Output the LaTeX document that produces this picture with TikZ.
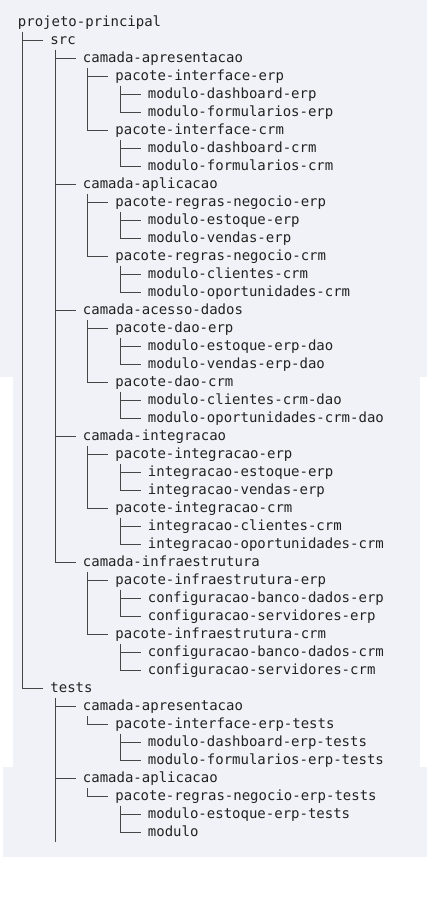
\documentclass[tikz,border=0pt]{standalone}
\usepackage{fontspec}
\newfontfamily\treefont{DejaVu Sans Mono}
\usepackage{tikz}

\definecolor{panel}{RGB}{240,242,247}
\definecolor{ink}{RGB}{34,34,34}
\definecolor{branch}{RGB}{70,70,70}

\tikzset{
  dir/.style={anchor=base west, inner ysep=0pt, inner xsep=7pt,
    text height=13.2pt, text depth=4.8pt, text=ink,
    font=\treefont\fontsize{14pt}{18pt}\selectfont},
  edge/.style={draw=branch, line width=0.9pt}
}

\begin{document}
\begin{tikzpicture}[x=1pt,y=-1pt]
  \useasboundingbox (0,0) rectangle (427,899);
  \fill[panel] (0,0) rectangle (427,377);
  \fill[panel] (13,377) rectangle (420,767);
  \fill[panel] (3,767) rectangle (427,857);

  \node[dir] (prj) at (10.7,26.8) {projeto-principal};
  \node[dir] (src) at (43.2,44.8) {src};
  \node[dir] (apres) at (75.7,62.8) {camada-apresentacao};
  \node[dir] (ierp) at (108.2,80.8) {pacote-interface-erp};
  \node[dir] (dasherp) at (140.7,98.8) {modulo-dashboard-erp};
  \node[dir] (formerp) at (140.7,116.8) {modulo-formularios-erp};
  \node[dir] (icrm) at (108.2,134.8) {pacote-interface-crm};
  \node[dir] (dashcrm) at (140.7,152.8) {modulo-dashboard-crm};
  \node[dir] (formcrm) at (140.7,170.8) {modulo-formularios-crm};
  \node[dir] (aplic) at (75.7,188.8) {camada-aplicacao};
  \node[dir] (rerp) at (108.2,206.8) {pacote-regras-negocio-erp};
  \node[dir] (estoerp) at (140.7,224.8) {modulo-estoque-erp};
  \node[dir] (venderp) at (140.7,242.8) {modulo-vendas-erp};
  \node[dir] (rcrm) at (108.2,260.8) {pacote-regras-negocio-crm};
  \node[dir] (clicrm) at (140.7,278.8) {modulo-clientes-crm};
  \node[dir] (oporcrm) at (140.7,296.8) {modulo-oportunidades-crm};
  \node[dir] (acesso) at (75.7,314.8) {camada-acesso-dados};
  \node[dir] (daoerp) at (108.2,332.8) {pacote-dao-erp};
  \node[dir] (estodao) at (140.7,350.8) {modulo-estoque-erp-dao};
  \node[dir] (venddao) at (140.7,368.8) {modulo-vendas-erp-dao};
  \node[dir] (daocrm) at (108.2,386.8) {pacote-dao-crm};
  \node[dir] (clidao) at (140.7,404.8) {modulo-clientes-crm-dao};
  \node[dir] (opordao) at (140.7,422.8) {modulo-oportunidades-crm-dao};
  \node[dir] (integ) at (75.7,440.8) {camada-integracao};
  \node[dir] (gerp) at (108.2,458.8) {pacote-integracao-erp};
  \node[dir] (intesto) at (140.7,476.8) {integracao-estoque-erp};
  \node[dir] (intvend) at (140.7,494.8) {integracao-vendas-erp};
  \node[dir] (gcrm) at (108.2,512.8) {pacote-integracao-crm};
  \node[dir] (intcli) at (140.7,530.8) {integracao-clientes-crm};
  \node[dir] (intopor) at (140.7,548.8) {integracao-oportunidades-crm};
  \node[dir] (infra) at (75.7,566.8) {camada-infraestrutura};
  \node[dir] (infraerp) at (108.2,584.8) {pacote-infraestrutura-erp};
  \node[dir] (bancoerp) at (140.7,602.8) {configuracao-banco-dados-erp};
  \node[dir] (serverp) at (140.7,620.8) {configuracao-servidores-erp};
  \node[dir] (infracrm) at (108.2,638.8) {pacote-infraestrutura-crm};
  \node[dir] (bancocrm) at (140.7,656.8) {configuracao-banco-dados-crm};
  \node[dir] (servcrm) at (140.7,674.8) {configuracao-servidores-crm};
  \node[dir] (tests) at (43.2,692.8) {tests};
  \node[dir] (tapres) at (75.7,710.8) {camada-apresentacao};
  \node[dir] (tierp) at (108.2,728.8) {pacote-interface-erp-tests};
  \node[dir] (tdash) at (140.7,746.8) {modulo-dashboard-erp-tests};
  \node[dir] (tform) at (140.7,764.8) {modulo-formularios-erp-tests};
  \node[dir] (taplic) at (75.7,782.8) {camada-aplicacao};
  \node[dir] (trerp) at (108.2,800.8) {pacote-regras-negocio-erp-tests};
  \node[dir] (testo) at (140.7,818.8) {modulo-estoque-erp-tests};
  \node[dir] (tmod) at (140.7,836.8) {modulo};
  \coordinate (cut) at (55.2,841.6);

  \draw[edge] ([xshift=12pt]prj.south west) |- (src.west);
  \draw[edge] ([xshift=12pt]prj.south west) |- (tests.west);
  \draw[edge] ([xshift=12pt]src.south west) |- (apres.west);
  \draw[edge] ([xshift=12pt]src.south west) |- (aplic.west);
  \draw[edge] ([xshift=12pt]src.south west) |- (acesso.west);
  \draw[edge] ([xshift=12pt]src.south west) |- (integ.west);
  \draw[edge] ([xshift=12pt]src.south west) |- (infra.west);
  \draw[edge] ([xshift=12pt]apres.south west) |- (ierp.west);
  \draw[edge] ([xshift=12pt]apres.south west) |- (icrm.west);
  \draw[edge] ([xshift=12pt]ierp.south west) |- (dasherp.west);
  \draw[edge] ([xshift=12pt]ierp.south west) |- (formerp.west);
  \draw[edge] ([xshift=12pt]icrm.south west) |- (dashcrm.west);
  \draw[edge] ([xshift=12pt]icrm.south west) |- (formcrm.west);
  \draw[edge] ([xshift=12pt]aplic.south west) |- (rerp.west);
  \draw[edge] ([xshift=12pt]aplic.south west) |- (rcrm.west);
  \draw[edge] ([xshift=12pt]rerp.south west) |- (estoerp.west);
  \draw[edge] ([xshift=12pt]rerp.south west) |- (venderp.west);
  \draw[edge] ([xshift=12pt]rcrm.south west) |- (clicrm.west);
  \draw[edge] ([xshift=12pt]rcrm.south west) |- (oporcrm.west);
  \draw[edge] ([xshift=12pt]acesso.south west) |- (daoerp.west);
  \draw[edge] ([xshift=12pt]acesso.south west) |- (daocrm.west);
  \draw[edge] ([xshift=12pt]daoerp.south west) |- (estodao.west);
  \draw[edge] ([xshift=12pt]daoerp.south west) |- (venddao.west);
  \draw[edge] ([xshift=12pt]daocrm.south west) |- (clidao.west);
  \draw[edge] ([xshift=12pt]daocrm.south west) |- (opordao.west);
  \draw[edge] ([xshift=12pt]integ.south west) |- (gerp.west);
  \draw[edge] ([xshift=12pt]integ.south west) |- (gcrm.west);
  \draw[edge] ([xshift=12pt]gerp.south west) |- (intesto.west);
  \draw[edge] ([xshift=12pt]gerp.south west) |- (intvend.west);
  \draw[edge] ([xshift=12pt]gcrm.south west) |- (intcli.west);
  \draw[edge] ([xshift=12pt]gcrm.south west) |- (intopor.west);
  \draw[edge] ([xshift=12pt]infra.south west) |- (infraerp.west);
  \draw[edge] ([xshift=12pt]infra.south west) |- (infracrm.west);
  \draw[edge] ([xshift=12pt]infraerp.south west) |- (bancoerp.west);
  \draw[edge] ([xshift=12pt]infraerp.south west) |- (serverp.west);
  \draw[edge] ([xshift=12pt]infracrm.south west) |- (bancocrm.west);
  \draw[edge] ([xshift=12pt]infracrm.south west) |- (servcrm.west);
  \draw[edge] ([xshift=12pt]tests.south west) |- (tapres.west);
  \draw[edge] ([xshift=12pt]tests.south west) |- (taplic.west);
  \draw[edge] ([xshift=12pt]tests.south west) -- (cut);
  \draw[edge] ([xshift=12pt]tapres.south west) |- (tierp.west);
  \draw[edge] ([xshift=12pt]tierp.south west) |- (tdash.west);
  \draw[edge] ([xshift=12pt]tierp.south west) |- (tform.west);
  \draw[edge] ([xshift=12pt]taplic.south west) |- (trerp.west);
  \draw[edge] ([xshift=12pt]trerp.south west) |- (testo.west);
  \draw[edge] ([xshift=12pt]trerp.south west) |- (tmod.west);
\end{tikzpicture}
\end{document}
